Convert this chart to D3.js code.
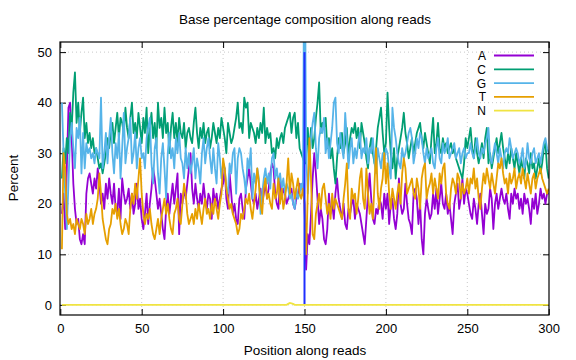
<!DOCTYPE html>
<html><head><meta charset="utf-8">
<script src="https://cdn.jsdelivr.net/npm/d3@7"></script>
<style>body{margin:0;background:#fff}svg{display:block}text{font-family:"Liberation Sans",Arial,sans-serif}</style>
</head><body><svg id="c" width="576" height="360"></svg>
<script>
const title = "Base percentage composition along reads";
const xLabel = "Position along reads";
const yLabel = "Percent";
const xTicks = [0, 50, 100, 150, 200, 250, 300];
const yTicks = [0, 10, 20, 30, 40, 50];
const boundary = [150];
const seriesNames = ["A", "C", "G", "T", "N"];
const seriesColors = ["#9400d3", "#009e73", "#56b4e9", "#e69f00", "#f0e442"];

const A = [
18,22,15,27,39,40,33,24,19,16, 17,13,12,14,12,22,25,26,24,22, 25,23,27,24,20,22,19,24,21,25,
22,20,24,19,18,23,17,25,22,20, 21,23,19,22,18,20,24,19,21,17, 15,18,22,16,20,23,27,25,22,19,
21,18,15,13,19,22,18,21,24,20, 23,26,14,22,20,23,21,24,27,30, 23,20,24,21,19,22,20,24,21,19,
22,21,17,23,20,22,19,21,23,24, 27,21,19,26,22,18,20,17,16,21, 22,19,17,23,25,27,24,21,20,22,
19,21,23,20,22,24,21,23,26,28, 27,22,20,19,25,21,23,22,20,21, 22,23,20,19,21,22,24,23,24,20,
7,14,12,18,25,30,26,21,16,19, 17,13,12,15,22,18,20,17,22,25, 21,19,17,20,16,15,19,18,20,21,
17,20,19,18,16,14,12,17,22,26, 21,17,16,19,18,21,20,17,22,19, 22,16,20,21,17,15,18,25,20,18,
19,24,20,17,16,14,22,23,21,16, 20,13,10,18,21,19,17,18,22,19, 23,18,21,24,20,19,22,18,20,17,
14,20,22,24,19,21,25,20,23,22, 20,18,17,21,19,16,20,22,18,14, 20,18,19,23,21,15,20,22,19,21,
23,21,20,22,19,17,22,20,23,21, 22,19,21,18,22,20,21,19,16,21, 19,22,18,20,23,21,22,20,22,22];

const C = [
25,31,28,33,30,38,35,42,46,36, 40,34,38,41,33,36,32,34,31,33, 30,31,29,27,28,26,28,30,33,31,
34,36,32,35,38,33,37,36,34,39, 35,33,37,40,34,36,33,38,35,32, 37,34,39,30,35,38,33,36,31,40,
35,37,33,39,34,36,30,35,38,33, 36,32,37,34,33,36,31,34,35,33, 32,36,39,34,31,35,33,36,32,34,
35,31,33,36,34,32,35,33,37,35, 33,30,36,34,32,33,35,37,40,35, 36,34,41,39,40,33,36,35,34,32,
35,33,36,34,39,32,35,33,34,30, 31,29,33,31,33,34,32,35,36,37, 38,34,37,38,33,36,31,30,29,28,
28,35,30,35,31,33,37,40,44,34, 36,35,37,31,33,29,31,27,24,29, 33,31,34,30,32,35,29,33,35,34,
36,33,35,31,36,34,32,29,27,31, 33,30,28,31,35,37,39,34,30,32, 42,35,30,27,31,25,29,31,33,35,
38,34,32,29,31,33,30,32,34,35, 36,33,31,34,32,30,28,33,37,30, 32,36,31,30,33,31,32,30,31,32,
30,31,29,28,27,26,25,28,33,31, 33,35,31,29,33,30,28,30,32,29, 33,35,28,30,27,29,31,33,30,32,
34,31,29,27,30,28,31,29,27,30, 28,26,29,27,25,29,28,26,30,27, 28,25,27,29,26,28,31,32,27,25];

const G = [
40,30,22,15,24,33,36,31,27,35, 33,37,26,34,27,32,30,31,29,30, 28,31,30,29,41,27,30,34,28,33,
37,30,26,32,29,34,25,31,38,28, 31,33,37,28,30,34,27,31,33,29, 30,27,33,35,37,28,24,31,33,26,
22,29,32,27,21,30,34,29,31,27, 33,30,34,29,28,25,31,27,30,26, 28,31,25,29,27,24,30,33,28,31,
33,29,26,31,27,24,32,29,25,28, 27,23,22,28,26,30,31,22,29,31, 30,27,25,22,29,27,31,21,26,24,
27,25,18,22,25,27,24,26,23,29, 30,25,27,24,26,23,25,22,24,23, 21,22,20,19,23,21,22,24,22,80,
30,22,28,33,36,38,31,27,33,35, 34,37,30,33,29,32,35,40,41,32, 30,34,31,29,38,33,27,31,33,28,
31,29,32,34,29,31,30,33,28,31, 30,33,28,26,31,29,27,30,28,31, 30,27,25,39,35,33,30,28,27,31,
29,30,32,34,35,33,28,30,33,31, 34,33,30,28,31,29,30,31,28,27, 31,33,29,28,32,30,31,33,29,30,
31,32,29,30,31,28,30,31,29,30, 30,32,30,29,31,33,30,29,31,30, 32,33,35,29,28,30,32,30,28,31,
29,27,30,31,30,33,31,29,30,31, 30,28,29,31,27,28,32,29,28,30, 31,28,29,30,28,30,32,33,31,30];

const T = [
11,30,27,18,16,17,15,16,14,17, 16,15,17,16,14,18,16,17,19,16, 18,19,21,26,22,17,15,13,12,15,
16,19,18,20,17,19,16,14,15,17, 16,14,19,22,20,24,21,25,29,22, 18,16,18,17,19,16,14,13,15,17,
14,17,19,21,18,20,17,15,14,18, 19,21,17,16,20,24,22,18,16,17, 18,16,19,17,20,18,16,19,21,18,
19,17,20,18,21,19,17,20,22,29, 27,23,21,19,20,18,17,16,14,15, 18,17,19,21,20,22,19,17,20,23,
27,24,20,18,23,25,21,22,20,19, 24,21,22,25,20,23,19,21,24,29, 22,26,24,21,23,25,22,21,23,20,
10,22,33,25,14,13,18,20,22,19, 23,24,21,18,20,17,22,19,21,20, 19,18,17,21,24,28,19,17,23,21,
22,18,21,25,27,21,19,27,22,18, 20,17,24,31,22,19,23,25,30,24, 28,22,19,23,21,19,22,24,20,26,
29,27,22,23,24,25,22,21,25,23, 19,25,27,28,21,23,24,26,22,25, 23,21,26,24,27,28,22,20,19,23,
25,24,22,26,25,21,24,22,23,25, 22,25,24,27,23,25,21,19,23,26, 24,27,25,23,26,24,22,25,28,27,
29,26,24,25,22,26,24,25,27,23, 25,26,24,27,25,23,26,24,22,25, 26,23,25,26,27,25,24,23,22,23];

const N = [
0,0,0,0,0,0,0,0,0,0, 0,0,0,0,0,0,0,0,0,0, 0,0,0,0,0,0,0,0,0,0,
0,0,0,0,0,0,0,0,0,0, 0,0,0,0,0,0,0,0,0,0, 0,0,0,0,0,0,0,0,0,0,
0,0,0,0,0,0,0,0,0,0, 0,0,0,0,0,0,0,0,0,0, 0,0,0,0,0,0,0,0,0,0,
0,0,0,0,0,0,0,0,0,0, 0,0,0,0,0,0,0,0,0,0, 0,0,0,0,0,0,0,0,0,0,
0,0,0,0,0,0,0,0,0,0, 0,0,0,0,0,0,0,0,0,0.2, 0.4,0.3,0.2,0,0,0,0,0,0,0,
0,0,0,0,0,0,0,0,0,0, 0,0,0,0,0,0,0,0,0,0, 0,0,0,0,0,0,0,0,0,0,
0,0,0,0,0,0,0,0,0,0, 0,0,0,0,0,0,0,0,0,0, 0,0,0,0,0,0,0,0,0,0,
0,0,0,0,0,0,0,0,0,0, 0,0,0,0,0,0,0,0,0,0, 0,0,0,0,0,0,0,0,0,0,
0,0,0,0,0,0,0,0,0,0, 0,0,0,0,0,0,0,0,0,0, 0,0,0,0,0,0,0,0,0,0,
0,0,0,0,0,0,0,0,0,0, 0,0,0,0,0,0,0,0,0,0, 0,0,0,0,0,0,0,0,0,0];

const seriesData = [A, C, G, T, N];

const svg = d3.select("#c");
const m = {l: 60, r: 549, t: 42, b: 315};
const x = d3.scaleLinear().domain([0, 300]).range([60.3, 548.7]);
const y = d3.scaleLinear().domain([-2, 52]).range([m.b, m.t]);
const FONT = '"Liberation Sans",Arial,sans-serif';

// grid
const grid = svg.append("g").attr("stroke", "#c8c8c8").attr("stroke-width", 1).attr("stroke-dasharray", "1,3");
xTicks.slice(1, -1).forEach(v => grid.append("line").attr("x1", x(v)).attr("x2", x(v)).attr("y1", m.t).attr("y2", m.b));
yTicks.forEach(v => grid.append("line").attr("x1", m.l).attr("x2", m.r).attr("y1", y(v)).attr("y2", y(v)));

// axes
const fs = 13;
const ax = svg.append("g").attr("transform", `translate(0,${m.b})`)
  .call(d3.axisBottom(x).tickValues(xTicks).tickSize(-6).tickPadding(9));
const ay = svg.append("g").attr("transform", `translate(${m.l},0)`)
  .call(d3.axisLeft(y).tickValues(yTicks).tickSize(-6).tickPadding(8));
const ax2 = svg.append("g").attr("transform", `translate(0,${m.t})`)
  .call(d3.axisTop(x).tickValues(xTicks).tickSize(-6).tickFormat(""));
const ay2 = svg.append("g").attr("transform", `translate(${m.r},0)`)
  .call(d3.axisRight(y).tickValues(yTicks).tickSize(-6).tickFormat(""));
[ax, ay, ax2, ay2].forEach(g => {
  g.select(".domain").remove();
  g.selectAll(".tick line").attr("stroke", "#000").attr("stroke-width", 1);
  g.selectAll("text").attr("font-size", fs).attr("fill", "#000").style("font-family", FONT);
});

svg.append("defs").append("clipPath").attr("id", "clip").append("rect")
  .attr("x", m.l).attr("y", m.t).attr("width", m.r - m.l).attr("height", m.b - m.t);

const line = d3.line().x((d, i) => x(i + 1)).y(d => y(d));
const plot = svg.append("g").attr("clip-path", "url(#clip)");
seriesData.forEach((arr, k) => {
  if (k === 4) return;
  plot.append("path").attr("d", line(arr)).attr("fill", "none")
    .attr("stroke", seriesColors[k]).attr("stroke-width", 1.8).attr("stroke-linejoin", "round");
});
boundary.forEach(b => {
  plot.append("line").attr("x1", x(b)).attr("x2", x(b)).attr("y1", y(0)).attr("y2", y(50))
    .attr("stroke", "#1f2fff").attr("stroke-width", 2);
});
plot.append("path").attr("d", line(N)).attr("fill", "none")
  .attr("stroke", seriesColors[4]).attr("stroke-width", 1.8);

// frame
svg.append("rect").attr("x", m.l).attr("y", m.t).attr("width", m.r - m.l).attr("height", m.b - m.t)
  .attr("fill", "none").attr("stroke", "#000").attr("stroke-width", 1.2);

// legend
seriesNames.forEach((n, k) => {
  const yy = 55.5 + k * 13.8;
  svg.append("text").attr("x", 486).attr("y", yy + 4.5).attr("text-anchor", "end")
    .attr("font-size", 12).text(n);
  svg.append("line").attr("x1", 494).attr("x2", 534).attr("y1", yy).attr("y2", yy)
    .attr("stroke", seriesColors[k]).attr("stroke-width", 1.8);
});

// labels
svg.append("text").attr("x", 305).attr("y", 24).attr("text-anchor", "middle").attr("font-size", 13.5).text(title);
svg.append("text").attr("x", 305).attr("y", 355).attr("text-anchor", "middle").attr("font-size", 13.5).text(xLabel);
svg.append("text").attr("transform", "translate(18,178) rotate(-90)").attr("text-anchor", "middle").attr("font-size", 13.5).text(yLabel);
</script></body></html>
